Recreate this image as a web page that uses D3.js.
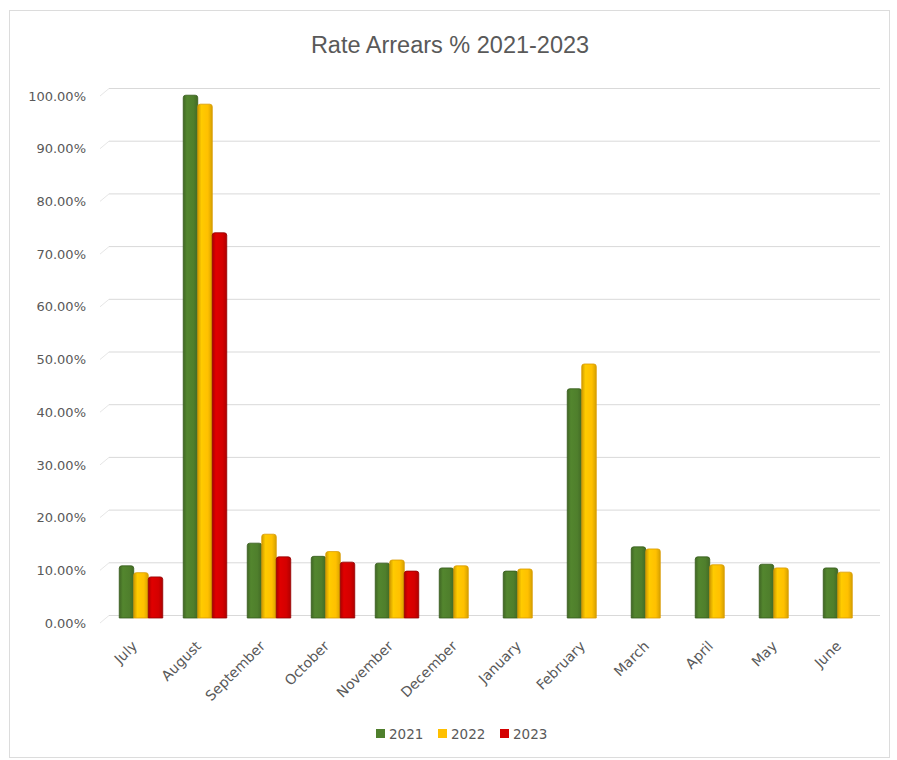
<!DOCTYPE html>
<html>
<head>
<meta charset="utf-8">
<script src="https://cdn.jsdelivr.net/npm/d3@7/dist/d3.min.js"></script>
<style>
  html, body { margin: 0; padding: 0; background: #ffffff; }
  svg { display: block; }
</style>
</head>
<body>
<svg id="chart" width="897" height="760"></svg>
<script>
// Monthly rate arrears (% of rates levied), financial years 2021-2023
const months = ["July", "August", "September", "October", "November", "December",
                "January", "February", "March", "April", "May", "June"];
const years = ["2021", "2022", "2023"];
const arrears2021 = [9.9, 99.2, 14.2, 11.7, 10.4, 9.5, 8.9, 43.5, 13.5, 11.6, 10.2, 9.5];
const arrears2022 = [8.6, 97.5, 15.9, 12.6, 11.0, 9.9, 9.3, 48.2, 13.1, 10.1, 9.5, 8.7];
const arrears2023 = [7.8, 73.1, 11.6, 10.6, 8.9, null, null, null, null, null, null, null];
const yTicks = [0, 10, 20, 30, 40, 50, 60, 70, 80, 90, 100];
const seriesColors = ["#4f7f2c", "#ffc000", "#d40000"];
const seriesEdges = ["#355a1b", "#d99a00", "#930000"];

const series = [arrears2021, arrears2022, arrears2023];

const svg = d3.select("#chart");

// chart frame
svg.append("rect")
  .attr("x", 9.5).attr("y", 10.5)
  .attr("width", 880).attr("height", 747)
  .attr("fill", "#ffffff")
  .attr("stroke", "#dcdcdc").attr("stroke-width", 1);

// scales
const x = d3.scaleBand().domain(months).range([109, 877])
  .paddingInner(0.32).paddingOuter(0.16);
const xs = d3.scaleBand().domain(years).range([0, x.bandwidth()]);
const y = d3.scaleLinear().domain([0, 100]).range([618, 91]);

// depth offset of the back wall (3-D look)
const depthX = 9, depthY = 3;

// gridlines on the back wall, with short side-wall stubs
const grid = svg.append("g").attr("class", "grid");
grid.selectAll("line.h").data(yTicks).join("line")
  .attr("class", "h")
  .attr("x1", 100 + depthX).attr("x2", 880)
  .attr("y1", d => y(d) - depthY + 0.5).attr("y2", d => y(d) - depthY + 0.5)
  .attr("stroke", "#d9d9d9").attr("stroke-width", 1);
grid.selectAll("line.s").data(yTicks).join("line")
  .attr("class", "s")
  .attr("x1", 100).attr("x2", 100 + depthX)
  .attr("y1", d => y(d) + 5).attr("y2", d => y(d) - depthY + 0.5)
  .attr("stroke", "#e6e6e6").attr("stroke-width", 1);

// y axis labels
const yAxis = d3.axisLeft(y).tickValues(yTicks).tickSize(0).tickPadding(0)
  .tickFormat(d => d.toFixed(2) + "%");
const gy = svg.append("g").attr("transform", "translate(86,5)").call(yAxis);
gy.select(".domain").remove();
gy.selectAll("text")
  .attr("fill", "#595959")
  .style("font-family", "'DejaVu Sans', sans-serif")
  .style("font-size", "13px");

// gradients for the cylinder-like columns
const defs = svg.append("defs");
seriesColors.forEach((c, i) => {
  const g = defs.append("linearGradient").attr("id", "grad" + i)
    .attr("x1", "0%").attr("x2", "100%").attr("y1", "0%").attr("y2", "0%");
  const base = d3.color(c);
  g.append("stop").attr("offset", "0%").attr("stop-color", base.darker(0.6));
  g.append("stop").attr("offset", "25%").attr("stop-color", base.brighter(0.15));
  g.append("stop").attr("offset", "70%").attr("stop-color", base);
  g.append("stop").attr("offset", "100%").attr("stop-color", base.darker(0.5));
});

// columns
const rows = [];
months.forEach((m, mi) => {
  years.forEach((yr, si) => {
    const v = series[si][mi];
    if (v != null) rows.push({ month: m, year: yr, si, value: v });
  });
});

const bw = xs.bandwidth();
const r = 2.5;
function columnPath(d) {
  const x0 = x(d.month) + xs(d.year);
  const x1 = x0 + bw;
  const yt = y(d.value);
  const yb = y(0);
  return `M${x0},${yb} L${x0},${yt + r} Q${x0},${yt} ${x0 + r},${yt} L${x1 - r},${yt} Q${x1},${yt} ${x1},${yt + r} L${x1},${yb} Z`;
}

svg.append("g").selectAll("path").data(rows).join("path")
  .attr("d", columnPath)
  .attr("fill", d => `url(#grad${d.si})`)
  .attr("stroke", d => seriesEdges[d.si])
  .attr("stroke-width", 0.8);

// x axis labels, rotated
svg.append("g").selectAll("text").data(months).join("text")
  .attr("transform", d => `translate(${x(d) + x.bandwidth() / 2 - 3},${647}) rotate(-45)`)
  .attr("text-anchor", "end")
  .attr("fill", "#595959")
  .style("font-family", "'DejaVu Sans', sans-serif")
  .style("font-size", "14px")
  .text(d => d);

// title
svg.append("text")
  .attr("x", 450).attr("y", 53)
  .attr("text-anchor", "middle")
  .attr("fill", "#595959")
  .style("font-family", "'Liberation Sans', sans-serif")
  .style("font-size", "23.5px")
  .text("Rate Arrears % 2021-2023");

// legend
const legend = svg.append("g").attr("transform", "translate(376,729)");
const li = legend.selectAll("g").data(years).join("g")
  .attr("transform", (d, i) => `translate(${i * 62},0)`);
li.append("rect").attr("width", 9).attr("height", 9)
  .attr("fill", (d, i) => seriesColors[i]);
li.append("text").attr("x", 13).attr("y", 9.5)
  .attr("fill", "#595959")
  .style("font-family", "'DejaVu Sans', sans-serif")
  .style("font-size", "13.5px")
  .text(d => d);
</script>
</body>
</html>
